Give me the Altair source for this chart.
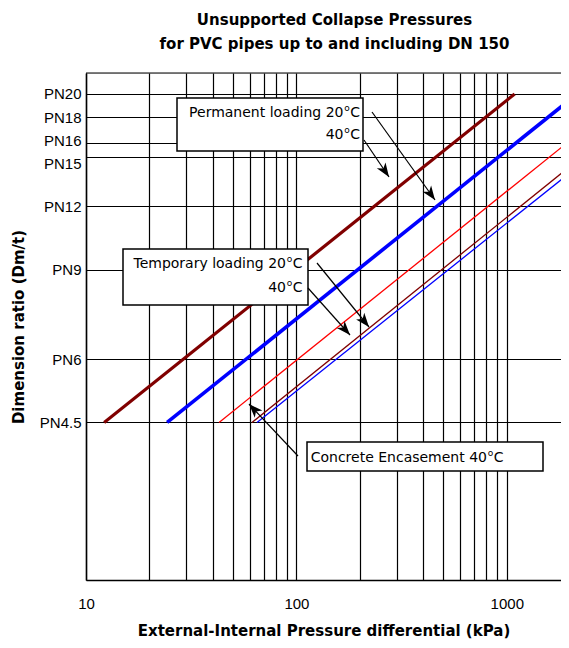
import math
import altair as alt
import pandas as pd

# ---------------- data ----------------
series = ["Permanent loading 20°C", "Permanent loading 40°C", "Concrete Encasement 40°C",
          "Temporary loading 20°C", "Temporary loading 40°C"]
p_start = [12.2, 24.3, 42.9, 61.5, 65.0]        # kPa at start of each curve
pn_start = [4.5, 4.5, 4.5, 4.5, 4.5]
p_end = [1090, 2000, 2000, 2000, 2000]          # kPa at end of each curve
pn_end = [20.0, 19.5, 16.2, 14.4, 14.0]
colors = ["#800000", "#0000ff", "#ff0000", "#800000", "#0000ff"]
widths = [3.2, 3.6, 1.3, 1.3, 1.3]

x_grid = [10, 20, 30, 40, 50, 60, 70, 80, 90, 100, 200, 300, 400, 500, 600, 700, 800, 900, 1000]
pn_ticks = [4.5, 6, 9, 12, 15, 16, 18, 20]

# annotation layout (pixels inside the plot area)
box_x = [91, 37, 221]
box_x2 = [277, 222, 457]
box_y = [25, 176, 369]
box_y2 = [78, 232, 398]

label_main = ["Permanent loading 20", "40", "Temporary loading 20", "40", "Concrete Encasement 40"]
label_xend = [257.5, 257.5, 200, 200, 401]
label_base = [44, 66, 195, 219, 389]

arrow_x1 = [286, 278, 231, 222, 212]
arrow_y1 = [39, 67, 190, 215, 383]
arrow_x2 = [349, 303, 283, 264, 163]
arrow_y2 = [127, 104, 254, 262, 331]

W, H = 475, 507
X_MAX = 1810

# ---------------- tables ----------------
rows = []
for i, s in enumerate(series):
    rows.append({"series": s, "p": p_start[i], "pn": pn_start[i]})
    rows.append({"series": s, "p": p_end[i], "pn": pn_end[i]})
lines_df = pd.DataFrame(rows)

boxes_df = pd.DataFrame({"x": box_x, "x2": box_x2, "y": box_y, "y2": box_y2})
lab_df = pd.DataFrame({"t": label_main, "x": label_xend, "y": label_base})
sup_df = pd.DataFrame({"t": ["o"] * 5, "x": [v + 0.8 for v in label_xend], "y": [v - 6 for v in label_base]})
c_df = pd.DataFrame({"t": ["C"] * 5, "x": [v + 6.8 for v in label_xend], "y": label_base})

arr_df = pd.DataFrame({"x": arrow_x1, "y": arrow_y1, "x2": arrow_x2, "y2": arrow_y2})
arr_df["angle"] = [(math.degrees(math.atan2(b - a, -(d - c))) + 360) % 360
                   for a, b, c, d in zip(arrow_x1, arrow_x2, arrow_y1, arrow_y2)]

xscale = alt.Scale(type="log", domain=[10, X_MAX], nice=False)
yscale = alt.Scale(type="log", domain=[2.2, 22], nice=False)

xaxis = alt.Axis(values=x_grid, format="d",
                 labelExpr="(datum.value==10||datum.value==100||datum.value==1000) ? datum.label : ''",
                 grid=True, gridColor="#000", gridWidth=1.2, ticks=False,
                 domainColor="#000", domainWidth=1.5,
                 labelFont="Liberation Sans", labelFontSize=15, labelColor="#000", labelPadding=16,
                 labelOverlap=False, labelFlush=False,
                 title="External-Internal Pressure differential (kPa)",
                 titleFont="DejaVu Sans", titleFontSize=15, titleFontWeight="bold",
                 titleColor="#000", titlePadding=12)
yaxis = alt.Axis(values=pn_ticks, labelExpr="'PN' + datum.value",
                 grid=True, gridColor="#000", gridWidth=1.2, ticks=False,
                 domainColor="#000", domainWidth=1.5,
                 labelFont="Liberation Sans", labelFontSize=15, labelColor="#000", labelPadding=5,
                 labelOverlap=False, labelFlush=False,
                 labelOffset={"condition": [{"test": "datum.value == 15", "value": 6},
                                            {"test": "datum.value == 16", "value": -3}],
                              "value": 0},
                 title="Dimension ratio (Dm/t)",
                 titleFont="DejaVu Sans", titleFontSize=15, titleFontWeight="bold",
                 titleColor="#000", titlePadding=13)

base = alt.Chart(lines_df)
layers = []
for i, s in enumerate(series):
    layers.append(
        base.transform_filter(alt.datum.series == s)
        .mark_line(clip=True, color=colors[i], strokeWidth=widths[i])
        .encode(
            x=alt.X("p:Q", scale=xscale, axis=xaxis),
            y=alt.Y("pn:Q", scale=yscale, axis=yaxis),
        )
    )

top_rule = alt.Chart(pd.DataFrame({"a": [0]})).mark_rule(color="#000", strokeWidth=1.2).encode(
    x=alt.value(0), x2=alt.value(W), y=alt.value(0))

boxes = alt.Chart(boxes_df).mark_rect(fill="white", stroke="#000", strokeWidth=1.5).encode(
    x=alt.X("x:Q", scale=None), x2="x2:Q", y=alt.Y("y:Q", scale=None), y2="y2:Q")

txt_kw = dict(font="DejaVu Sans", fontSize=14, color="#000", baseline="alphabetic")
main_txt = alt.Chart(lab_df).mark_text(align="right", **txt_kw).encode(
    x=alt.X("x:Q", scale=None), y=alt.Y("y:Q", scale=None), text="t:N")
sup_txt = alt.Chart(sup_df).mark_text(align="left", font="DejaVu Sans", fontSize=9, color="#000",
                                      baseline="alphabetic").encode(
    x=alt.X("x:Q", scale=None), y=alt.Y("y:Q", scale=None), text="t:N")
c_txt = alt.Chart(c_df).mark_text(align="left", **txt_kw).encode(
    x=alt.X("x:Q", scale=None), y=alt.Y("y:Q", scale=None), text="t:N")

arrows = alt.Chart(arr_df).mark_rule(color="#000", strokeWidth=1.2).encode(
    x=alt.X("x:Q", scale=None), y=alt.Y("y:Q", scale=None), x2="x2:Q", y2="y2:Q")
heads = alt.Chart(arr_df).mark_point(
    shape="M0,0 L0.75,2 L0,1.45 L-0.75,2 Z", filled=True, color="#000", opacity=1, size=196,
    strokeWidth=0).encode(
    x=alt.X("x2:Q", scale=None), y=alt.Y("y2:Q", scale=None), angle=alt.Angle("angle:Q", scale=None))

chart = alt.layer(*layers, top_rule, boxes, main_txt, sup_txt, c_txt, arrows, heads).properties(
    width=W, height=H,
    padding={"left": 78, "top": 65, "right": 0, "bottom": 60},
    autosize=alt.AutoSizeParams(type="none"),
    title=alt.TitleParams(["Unsupported Collapse Pressures", "for PVC pipes up to and including DN 150"],
                          font="DejaVu Sans", fontSize=15, fontWeight="bold", color="#000",
                          anchor="middle", dx=11, offset=20, lineHeight=24),
).configure_view(stroke=None).configure(background="white")

chart.save("out.html", embed_options={"renderer": "svg", "actions": False})
